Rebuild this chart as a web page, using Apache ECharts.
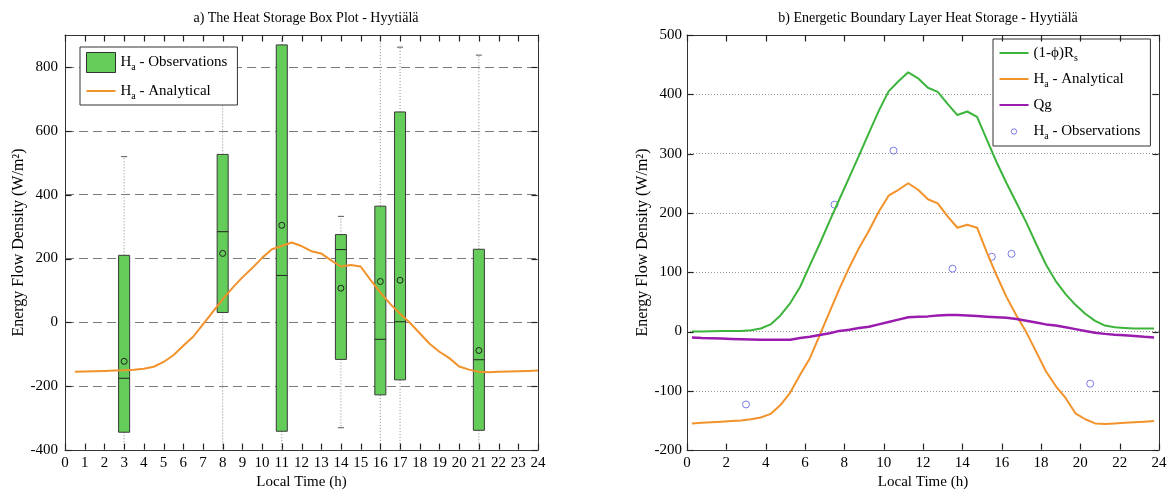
<!DOCTYPE html>
<html>
<head>
<meta charset="utf-8">
<title>Heat Storage - Hyytiälä</title>
<script src="https://cdn.jsdelivr.net/npm/echarts@6/dist/echarts.min.js"></script>
<style>
  html, body { margin: 0; padding: 0; background: #fff; }
  #chart { width: 1175px; height: 495px; }
</style>
</head>
<body>
<div id="chart"></div>
<script>
// ---- Panel a: box plot of observed heat storage by hour ----
const boxHours   = [3, 8, 11, 14, 16, 17, 21];
const boxLow     = [-450, -450, -450, -330, -450, -450, -450];
const boxQ1      = [-344, 31, -341, -116, -227, -180, -338];
const boxMedian  = [-175, 284, 147, 228, -53, 2, -117];
const boxQ3      = [210, 526, 869, 275, 364, 659, 229];
const boxHigh    = [519, 760, 960, 332, 960, 862, 837];
const boxMean    = [-122, 216, 304, 107, 128, 132, -88];

// ---- Half-hourly model series ----
const halfHourTimes = [0.25, 0.75, 1.25, 1.75, 2.25, 2.75, 3.25, 3.75, 4.25, 4.75, 5.25, 5.75,
  6.25, 6.75, 7.25, 7.75, 8.25, 8.75, 9.25, 9.75, 10.25, 10.75, 11.25, 11.75,
  12.25, 12.75, 13.25, 13.75, 14.25, 14.75, 15.25, 15.75, 16.25, 16.75, 17.25, 17.75,
  18.25, 18.75, 19.25, 19.75, 20.25, 20.75, 21.25, 21.75, 22.25, 22.75, 23.25, 23.75];
// panel a plots the analytical curve at the end of each averaging step
const boxPanelTimes = [0.5, 1, 1.5, 2, 2.5, 3, 3.5, 4, 4.5, 5, 5.5, 6,
  6.5, 7, 7.5, 8, 8.5, 9, 9.5, 10, 10.5, 11, 11.5, 12,
  12.5, 13, 13.5, 14, 14.5, 15, 15.5, 16, 16.5, 17, 17.5, 18,
  18.5, 19, 19.5, 20, 20.5, 21, 21.5, 22, 22.5, 23, 23.5, 24];

const radiationRs = [0, 0, 0.5, 1, 1, 1, 2, 5, 12, 27, 48, 75,
  112, 148, 186, 223, 260, 297, 335, 372, 405, 422, 437, 427,
  411, 404, 384, 365, 371, 362, 323, 285, 250, 217, 184, 148,
  113, 85, 63, 45, 30, 18, 10, 7, 6, 5, 5, 5];
const analyticalHa = [-155, -154, -153, -152, -151, -150, -148, -145, -139, -124, -103, -73,
  -45, -6, 33, 72, 108, 141, 170, 202, 229, 239, 250, 239,
  223, 216, 194, 175, 180, 175, 133, 94, 58, 27, -1, -34,
  -67, -92, -112, -138, -148, -155, -156, -155, -154, -153, -152, -151];
const groundQg = [-10, -11, -11.5, -12, -12.5, -13, -13.5, -14, -14, -14, -14, -11,
  -9, -6, -3, 1, 3, 6, 8, 12, 16, 20, 24, 25,
  25.5, 27, 28, 28, 27, 26, 25, 24, 23, 21, 18, 15,
  12, 10, 7, 4, 1, -2, -4, -5.5, -6.5, -7.5, -9, -10];

// ---- Panel b: observed hourly means ----
const obsHours  = [3, 7.5, 10.5, 13.5, 15.5, 16.5, 20.5];
const obsValues = [-123, 214, 305, 106, 126, 131, -88];

// ---- Axis ranges and tick values ----
const panelAYRange = { min: -400, max: 900, interval: 200 };
const panelBYRange = { min: -200, max: 500, interval: 100 };
const panelAXTicks = [0, 1, 2, 3, 4, 5, 6, 7, 8, 9, 10, 11, 12, 13, 14, 15, 16, 17, 18, 19, 20, 21, 22, 23, 24];
const panelAYTicks = [-400, -200, 0, 200, 400, 600, 800];
const panelBXTicks = [0, 2, 4, 6, 8, 10, 12, 14, 16, 18, 20, 22, 24];
const panelBYTicks = [-200, -100, 0, 100, 200, 300, 400, 500];

const FONT = 'Liberation Serif';
const COL_BOX = '#64cc58';
const COL_GREEN = '#3cb43c';
const COL_ORANGE = '#f2922a';
const COL_PURPLE = '#9a1cae';
const COL_BLUE = '#5a5ae4';
const COL_AXIS = '#333';
const TICK_LEN = 6;

// legend glyph: a 2px stroke centred in a 29x20 box
const LINE_ICON = 'path://M0,0M29,20M0,9L29,9L29,11L0,11Z';
const CIRCLE_ICON = 'path://M0,0M29,20M17.2,10A2.7,2.7,0,1,1,11.8,10A2.7,2.7,0,1,1,17.2,10Z';

const zip = (xs, ys) => xs.map((x, i) => [x, ys[i]]);
const boxData = boxHours.map((h, i) =>
  [h, boxLow[i], boxQ1[i], boxMedian[i], boxQ3[i], boxHigh[i], boxMean[i]]);

const tickStyle = { stroke: '#222', lineWidth: 1.2 };
const snap = v => Math.round(v) + 0.5;

// inward ticks on the bottom and top frame edges
function renderXTick(params, api) {
  const cs = params.coordSys;
  const x = snap(api.coord([api.value(0), api.value(1)])[0]);
  const yb = cs.y + cs.height - 0.5, yt = cs.y + 0.5;
  return { type: 'group', silent: true, children: [
    { type: 'line', shape: { x1: x, y1: yb, x2: x, y2: yb - TICK_LEN }, style: tickStyle },
    { type: 'line', shape: { x1: x, y1: yt, x2: x, y2: yt + TICK_LEN }, style: tickStyle }
  ] };
}
// inward ticks on the left and right frame edges
function renderYTick(params, api) {
  const cs = params.coordSys;
  const y = snap(api.coord([api.value(0), api.value(1)])[1]);
  const xl = cs.x + 0.5, xr = cs.x + cs.width - 0.5;
  return { type: 'group', silent: true, children: [
    { type: 'line', shape: { x1: xl, y1: y, x2: xl + TICK_LEN, y2: y }, style: tickStyle },
    { type: 'line', shape: { x1: xr, y1: y, x2: xr - TICK_LEN, y2: y }, style: tickStyle }
  ] };
}

function renderBox(params, api) {
  const cs = params.coordSys;
  const top = cs.y, bottom = cs.y + cs.height;
  const clampY = y => Math.min(bottom, Math.max(top, y));
  const x = api.value(0);
  const yOf = v => api.coord([x, v])[1];
  const cx = api.coord([x, 0])[0];
  const halfW = api.size([0.56, 0])[0] / 2;
  const yLo = yOf(api.value(1)), yQ1 = yOf(api.value(2)), yMed = yOf(api.value(3));
  const yQ3 = yOf(api.value(4)), yHi = yOf(api.value(5)), yMean = yOf(api.value(6));
  const dotted = { stroke: '#8a8a8a', lineWidth: 1, lineDash: [1, 2] };
  const children = [
    { type: 'line', shape: { x1: cx, y1: yQ3, x2: cx, y2: clampY(yHi) }, style: dotted },
    { type: 'line', shape: { x1: cx, y1: yQ1, x2: cx, y2: clampY(yLo) }, style: dotted }
  ];
  if (yHi >= top) children.push({ type: 'line', shape: { x1: cx - 3, y1: yHi, x2: cx + 3, y2: yHi }, style: { stroke: '#555', lineWidth: 1 } });
  if (yLo <= bottom) children.push({ type: 'line', shape: { x1: cx - 3, y1: yLo, x2: cx + 3, y2: yLo }, style: { stroke: '#555', lineWidth: 1 } });
  children.push(
    { type: 'rect', shape: { x: cx - halfW, y: clampY(yQ3), width: halfW * 2, height: clampY(yQ1) - clampY(yQ3) },
      style: { fill: COL_BOX, stroke: '#3a3a3a', lineWidth: 1 } },
    { type: 'line', shape: { x1: cx - halfW, y1: yMed, x2: cx + halfW, y2: yMed }, style: { stroke: '#222', lineWidth: 1 } },
    { type: 'circle', shape: { cx: cx, cy: yMean, r: 3 }, style: { fill: null, stroke: '#222', lineWidth: 1 } }
  );
  return { type: 'group', children: children };
}

const legendText = {
  obsBox: '{b|H}{s|a}{b| - Observations}',
  anaBox: '{b|H}{s|a}{b| - Analytical}',
  rs: '{b|(1-ϕ)R}{s|s}',
  ana: '{b|H}{s|a}{b| - Analytical}',
  qg: '{b|Qg}',
  obs: '{b|H}{s|a}{b| - Observations}'
};
const legendRich = {
  b: { fontFamily: FONT, fontSize: 15, color: '#000', lineHeight: 20, verticalAlign: 'middle' },
  s: { fontFamily: FONT, fontSize: 10, color: '#000', lineHeight: 8, verticalAlign: 'bottom' }
};

const labelStyle = { fontFamily: FONT, fontSize: 15, color: '#000' };
const nameStyle = { fontFamily: FONT, fontSize: 15, color: '#000' };
const yNameStyle = { fontFamily: FONT, fontSize: 16, color: '#000' };
const titleStyle = { fontFamily: FONT, fontSize: 14, fontWeight: 'normal', color: '#000' };

function frameAxis(extra) {
  return Object.assign({
    type: 'value',
    axisLine: { show: true, onZero: false, lineStyle: { color: COL_AXIS, width: 1 } },
    axisTick: { show: false },
    axisLabel: { show: false },
    splitLine: { show: false }
  }, extra);
}

const option = {
  animation: false,
  backgroundColor: '#fff',
  title: [
    { text: 'a) The Heat Storage Box Plot - Hyytiälä', left: 301, top: 6, textAlign: 'center', textStyle: titleStyle },
    { text: 'b) Energetic Boundary Layer Heat Storage - Hyytiälä', left: 923, top: 6, textAlign: 'center', textStyle: titleStyle }
  ],
  grid: [
    { left: 65, top: 35, width: 473, height: 416 },
    { left: 687, top: 35, width: 472, height: 416 }
  ],
  xAxis: [
    frameAxis({ gridIndex: 0, position: 'bottom', min: 0, max: 24, interval: 1,
      axisLabel: Object.assign({ show: true, margin: 5 }, labelStyle),
      name: 'Local Time (h)', nameLocation: 'middle', nameGap: 21, nameTextStyle: nameStyle }),
    frameAxis({ gridIndex: 0, position: 'top', min: 0, max: 24, interval: 1 }),
    frameAxis({ gridIndex: 1, position: 'bottom', min: 0, max: 24, interval: 2,
      axisLabel: Object.assign({ show: true, margin: 5 }, labelStyle),
      name: 'Local Time (h)', nameLocation: 'middle', nameGap: 21, nameTextStyle: nameStyle }),
    frameAxis({ gridIndex: 1, position: 'top', min: 0, max: 24, interval: 2 })
  ],
  yAxis: [
    frameAxis(Object.assign({ gridIndex: 0, position: 'left',
      axisLabel: Object.assign({ show: true, margin: 7, showMaxLabel: false }, labelStyle),
      splitLine: { show: true, lineStyle: { color: '#7a7a7a', width: 1.2, type: [9, 5] } },
      name: 'Energy Flow Density (W/m²)', nameLocation: 'middle', nameGap: 36, nameTextStyle: yNameStyle
    }, panelAYRange)),
    frameAxis(Object.assign({ gridIndex: 0, position: 'right' }, panelAYRange)),
    frameAxis(Object.assign({ gridIndex: 1, position: 'left',
      axisLabel: Object.assign({ show: true, margin: 5 }, labelStyle),
      splitLine: { show: true, lineStyle: { color: '#9a9a9a', width: 1, type: [1, 2] } },
      name: 'Energy Flow Density (W/m²)', nameLocation: 'middle', nameGap: 34, nameTextStyle: yNameStyle
    }, panelBYRange)),
    frameAxis(Object.assign({ gridIndex: 1, position: 'right' }, panelBYRange))
  ],
  legend: [
    {
      orient: 'vertical', left: 80, top: 47, itemWidth: 29, itemHeight: 20, itemGap: 8,
      padding: [5, 10, 4, 6], backgroundColor: '#fff', borderColor: '#333', borderWidth: 1, borderRadius: 0,
      selectedMode: false,
      data: [
        { name: 'obsBox', icon: 'rect', itemStyle: { color: COL_BOX, borderColor: '#333', borderWidth: 1 } },
        { name: 'anaBox', icon: LINE_ICON, itemStyle: { color: COL_ORANGE } }
      ],
      formatter: name => legendText[name],
      textStyle: { rich: legendRich }
    },
    {
      orient: 'vertical', left: 993, top: 39, itemWidth: 29, itemHeight: 20, itemGap: 6,
      padding: [4, 10, 4, 6], backgroundColor: '#fff', borderColor: '#333', borderWidth: 1, borderRadius: 0,
      selectedMode: false,
      data: [
        { name: 'rs', icon: LINE_ICON, itemStyle: { color: COL_GREEN } },
        { name: 'ana', icon: LINE_ICON, itemStyle: { color: COL_ORANGE } },
        { name: 'qg', icon: LINE_ICON, itemStyle: { color: COL_PURPLE } },
        { name: 'obs', icon: CIRCLE_ICON,
          itemStyle: { color: 'rgba(0,0,0,0)', borderColor: COL_BLUE, borderWidth: 1 } }
      ],
      formatter: name => legendText[name],
      textStyle: { rich: legendRich }
    }
  ],
  series: [
    {
      name: 'ticksAX', type: 'custom', xAxisIndex: 0, yAxisIndex: 0, silent: true, clip: false,
      renderItem: renderXTick, data: panelAXTicks.map(v => [v, 0]),
      encode: { x: 0, y: 1 }, z: 10
    },
    {
      name: 'ticksAY', type: 'custom', xAxisIndex: 0, yAxisIndex: 0, silent: true, clip: false,
      renderItem: renderYTick, data: panelAYTicks.map(v => [12, v]),
      encode: { x: 0, y: 1 }, z: 10
    },
    {
      name: 'ticksBX', type: 'custom', xAxisIndex: 2, yAxisIndex: 2, silent: true, clip: false,
      renderItem: renderXTick, data: panelBXTicks.map(v => [v, 0]),
      encode: { x: 0, y: 1 }, z: 10
    },
    {
      name: 'ticksBY', type: 'custom', xAxisIndex: 2, yAxisIndex: 2, silent: true, clip: false,
      renderItem: renderYTick, data: panelBYTicks.map(v => [12, v]),
      encode: { x: 0, y: 1 }, z: 10
    },
    {
      name: 'obsBox', type: 'custom', xAxisIndex: 0, yAxisIndex: 0,
      renderItem: renderBox, data: boxData,
      encode: { x: 0, y: [1, 2, 3, 4, 5, 6] },
      itemStyle: { color: COL_BOX }, z: 2
    },
    {
      name: 'anaBox', type: 'line', xAxisIndex: 0, yAxisIndex: 0,
      data: zip(boxPanelTimes, analyticalHa), symbol: 'none',
      lineStyle: { color: COL_ORANGE, width: 2 }, itemStyle: { color: COL_ORANGE }, z: 3
    },
    {
      name: 'rs', type: 'line', xAxisIndex: 2, yAxisIndex: 2,
      data: zip(halfHourTimes, radiationRs), symbol: 'none',
      lineStyle: { color: COL_GREEN, width: 2 }, itemStyle: { color: COL_GREEN }
    },
    {
      name: 'ana', type: 'line', xAxisIndex: 2, yAxisIndex: 2,
      data: zip(halfHourTimes, analyticalHa), symbol: 'none',
      lineStyle: { color: COL_ORANGE, width: 2 }, itemStyle: { color: COL_ORANGE }
    },
    {
      name: 'qg', type: 'line', xAxisIndex: 2, yAxisIndex: 2,
      data: zip(halfHourTimes, groundQg), symbol: 'none',
      lineStyle: { color: COL_PURPLE, width: 2.5 }, itemStyle: { color: COL_PURPLE }
    },
    {
      name: 'obs', type: 'scatter', xAxisIndex: 2, yAxisIndex: 2,
      data: zip(obsHours, obsValues), symbol: 'circle', symbolSize: 7,
      itemStyle: { color: 'rgba(0,0,0,0)', borderColor: COL_BLUE, borderWidth: 1 }
    }
  ]
};

const chart = echarts.init(document.getElementById('chart'), null, { renderer: 'canvas' });
chart.setOption(option);
</script>
</body>
</html>
